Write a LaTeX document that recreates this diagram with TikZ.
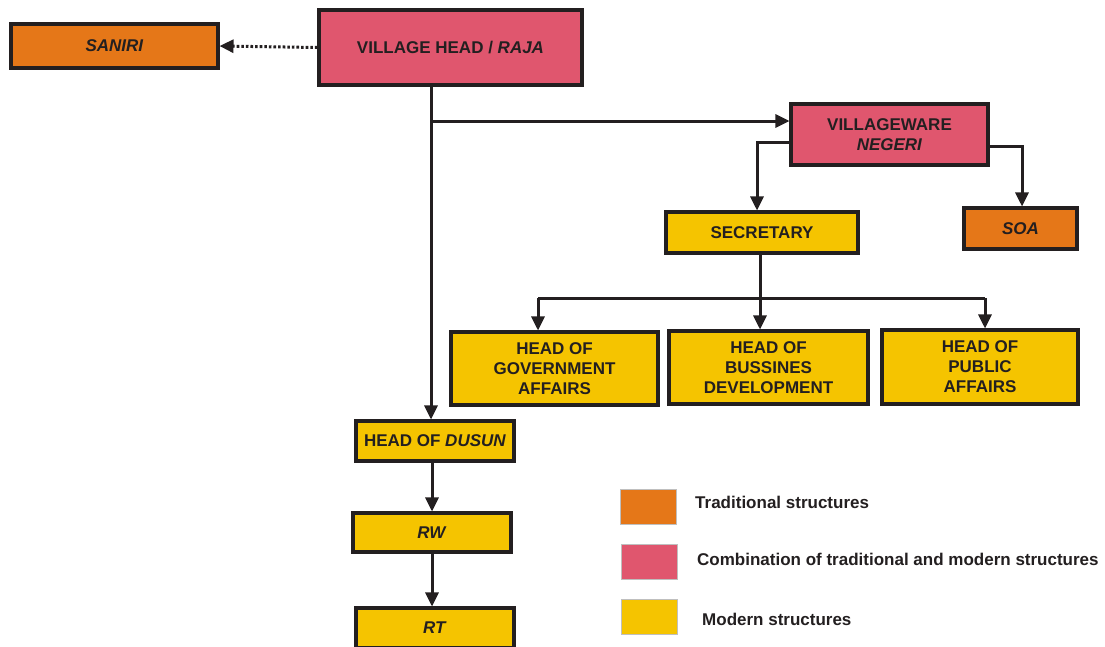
\documentclass[tikz,border=0pt]{standalone}
\usepackage{fontspec}
\setmainfont{Liberation Sans}
\usetikzlibrary{arrows.meta,calc}

\definecolor{tradorange}{HTML}{E57718}
\definecolor{mixpink}{HTML}{E0566E}
\definecolor{modyellow}{HTML}{F5C400}
\definecolor{inkdark}{HTML}{231F20}

\tikzset{
  unitbox/.style={draw=inkdark,line width=3.05pt,inner sep=0pt,align=center,
    font=\fontsize{17}{20}\selectfont\bfseries,text=inkdark},
  tradbox/.style={unitbox,fill=tradorange},
  mixbox/.style={unitbox,fill=mixpink},
  modbox/.style={unitbox,fill=modyellow},
  link/.style={draw=inkdark,line width=3pt},
  arrow/.style={link,-{Triangle[length=14pt,width=13pt]}},
  keybox/.style={draw=black!25,line width=0.6pt,minimum width=56pt,minimum height=35pt,inner sep=0pt},
  keytext/.style={anchor=west,inner sep=0pt,font=\fontsize{17}{20}\selectfont\bfseries,text=inkdark}
}

\begin{document}
\begin{tikzpicture}[x=1pt,y=-1pt]
\useasboundingbox (0,0) rectangle (1105,646);

%---------------- Top: village head and saniri ----------------
\node[mixbox,minimum width=263pt,minimum height=75pt] (raja) at (450.5,47.5) {VILLAGE HEAD / \textit{RAJA}};
\node[tradbox,minimum width=207pt,minimum height=44pt] (saniri) at (114.5,46) {\textit{SANIRI}};

\draw[arrow,dash pattern=on 2.6pt off 2pt] (raja.west) -- (saniri.east);

%---------------- Right branch: negeri ----------------
\node[mixbox,minimum width=197pt,minimum height=61pt] (ware) at (889.5,134.5) {VILLAGEWARE\\\textit{NEGERI}};
\node[modbox,minimum width=192pt,minimum height=41pt] (secr) at (762,232.5) {SECRETARY};
\node[tradbox,minimum width=113pt,minimum height=41pt] (soa) at (1020.5,228.5) {\textit{SOA}};

\node[modbox,minimum width=207pt,minimum height=73pt] (gov) at (554.5,368.5) {HEAD OF\\GOVERNMENT\\AFFAIRS};
\node[modbox,minimum width=199pt,minimum height=73pt] (bus) at (768.5,367.5) {HEAD OF\\BUSSINES\\DEVELOPMENT};
\node[modbox,minimum width=196pt,minimum height=74pt] (pub) at (980,367) {HEAD OF\\PUBLIC\\AFFAIRS};

%---------------- Left branch: dusun ----------------
\node[modbox,minimum width=158pt,minimum height=40pt] (dusun) at (435,441) {HEAD OF \textit{DUSUN}};
\node[modbox,minimum width=158pt,minimum height=39pt] (rw) at (432,532.5) {\textit{RW}};
\node[modbox,minimum width=158pt,minimum height=40pt] (rt) at (435,628) {\textit{RT}};

% Connectors
\coordinate (split) at (431,121);
\coordinate (bar) at (760,298);

\draw[link] (split |- raja.south) -- (split);
\draw[arrow] (split) -- (split |- dusun.north);
\draw[arrow] (split) -- (split -| ware.west);
\draw[arrow] ([yshift=-7.5pt]ware.west) -| ([xshift=-5pt]secr.north);
\draw[arrow] ([yshift=-11.5pt]ware.east) -| ([xshift=1.5pt]soa.north);

\draw[arrow] (bar |- secr.south) -- (bar |- bus.north);
\draw[link] ([xshift=-16.5pt]gov.north |- bar) -- ([xshift=5pt]pub.north |- bar);
\draw[arrow] ([xshift=-16.5pt]gov.north |- bar) -- ([xshift=-16.5pt]gov.north);
\draw[arrow] ([xshift=5pt]pub.north |- bar) -- ([xshift=5pt]pub.north);

\draw[arrow] ([xshift=-3pt]dusun.south) -- (rw.north);
\draw[arrow] (rw.south) -- ([xshift=-3pt]rt.north);

%---------------- Legend ----------------
\node[keybox,fill=tradorange] (keytrad) at (648.5,506.5) {};
\node[keybox,fill=mixpink] (keymix) at (649,562) {};
\node[keybox,fill=modyellow] (keymod) at (649.5,617) {};

\node[keytext] (labtrad) at (695,502) {Traditional structures};
\node[keytext] (labmix) at (697,559) {Combination of traditional and modern structures};
\node[keytext] (labmod) at (702,619) {Modern structures};

\end{tikzpicture}
\end{document}
